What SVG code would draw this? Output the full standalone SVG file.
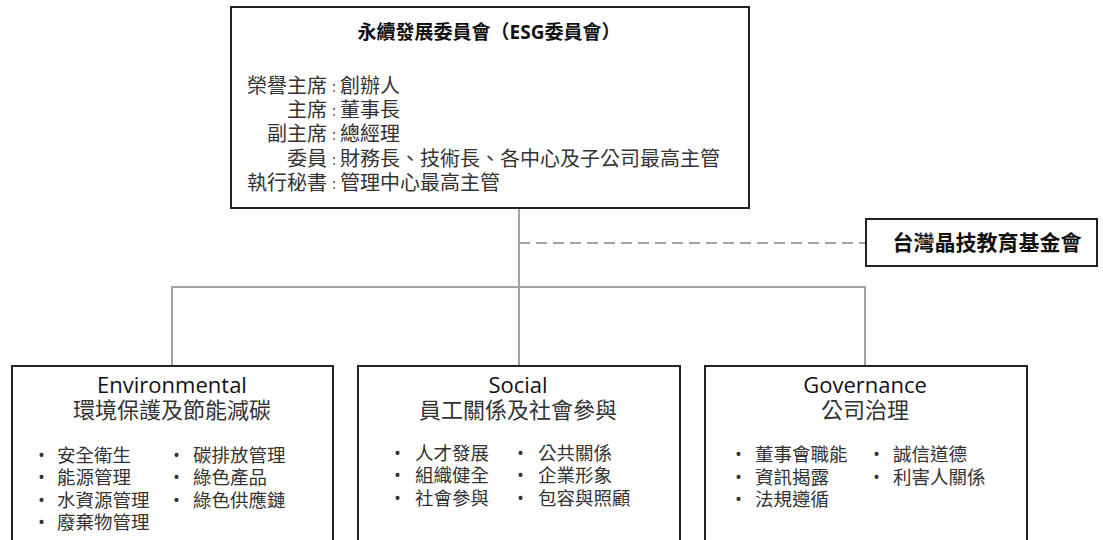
<svg xmlns="http://www.w3.org/2000/svg" width="1103" height="540" viewBox="0 0 1103 540">
<style>
.box{fill:#fff;stroke:#222;stroke-width:2}
.conn{fill:none;stroke:#a3a3a3;stroke-width:2}
.dash{stroke-dasharray:11 6}
text{font-family:"Open Sans","Noto Sans CJK TC","Noto Sans",sans-serif;fill:#333}
.ttl{font-size:19px;font-weight:bold;fill:#111;text-anchor:middle}
.row{font-size:20px}
.cl{font-size:12px}
.hd{font-size:22px;fill:#111;text-anchor:middle}
.sub{font-size:22px;text-anchor:middle}
.it{font-size:18.5px}
</style>
<rect width="1103" height="540" fill="#fff"/>
<g id="connectors">
<path class="conn" d="M519 208V366M172 366V287H865V366"/>
<path class="conn dash" d="M519 243H866"/>
</g>
<g id="esg-committee">
<rect class="box" x="231" y="7" width="518" height="201"/>
<text class="ttl" x="489" y="39">永續發展委員會（ESG委員會）</text>
<text class="row" y="93"><tspan x="327" text-anchor="end">榮譽主席</tspan><tspan x="328" class="cl">：</tspan><tspan>創辦人</tspan></text>
<text class="row" y="117"><tspan x="327" text-anchor="end">主席</tspan><tspan x="328" class="cl">：</tspan><tspan>董事長</tspan></text>
<text class="row" y="141"><tspan x="327" text-anchor="end">副主席</tspan><tspan x="328" class="cl">：</tspan><tspan>總經理</tspan></text>
<text class="row" y="166"><tspan x="327" text-anchor="end">委員</tspan><tspan x="328" class="cl">：</tspan><tspan>財務長、技術長、各中心及子公司最高主管</tspan></text>
<text class="row" y="190"><tspan x="327" text-anchor="end">執行秘書</tspan><tspan x="328" class="cl">：</tspan><tspan>管理中心最高主管</tspan></text>
</g>
<g id="foundation">
<rect class="box" x="866" y="219" width="231" height="47"/>
<text class="ttl" x="987" y="250" style="font-size:21px">台灣晶技教育基金會</text>
</g>
<g id="environmental">
<rect class="box" x="12" y="366" width="321" height="200"/>
<text class="hd" x="172" y="393">Environmental</text>
<text class="sub" x="172" y="418">環境保護及節能減碳</text>
<text class="it" y="462"><tspan x="38">•</tspan><tspan x="57">安全衛生</tspan></text>
<text class="it" y="484"><tspan x="38">•</tspan><tspan x="57">能源管理</tspan></text>
<text class="it" y="507"><tspan x="38">•</tspan><tspan x="57">水資源管理</tspan></text>
<text class="it" y="529"><tspan x="38">•</tspan><tspan x="57">廢棄物管理</tspan></text>
<text class="it" y="462"><tspan x="173">•</tspan><tspan x="193">碳排放管理</tspan></text>
<text class="it" y="484"><tspan x="173">•</tspan><tspan x="193">綠色產品</tspan></text>
<text class="it" y="507"><tspan x="173">•</tspan><tspan x="193">綠色供應鏈</tspan></text>
</g>
<g id="social">
<rect class="box" x="358" y="366" width="322" height="200"/>
<text class="hd" x="518" y="393">Social</text>
<text class="sub" x="518" y="418">員工關係及社會參與</text>
<text class="it" y="460"><tspan x="394">•</tspan><tspan x="415">人才發展</tspan></text>
<text class="it" y="482"><tspan x="394">•</tspan><tspan x="415">組織健全</tspan></text>
<text class="it" y="505"><tspan x="394">•</tspan><tspan x="415">社會參與</tspan></text>
<text class="it" y="460"><tspan x="517">•</tspan><tspan x="538">公共關係</tspan></text>
<text class="it" y="482"><tspan x="517">•</tspan><tspan x="538">企業形象</tspan></text>
<text class="it" y="505"><tspan x="517">•</tspan><tspan x="538">包容與照顧</tspan></text>
</g>
<g id="governance">
<rect class="box" x="705" y="366" width="322" height="200"/>
<text class="hd" x="865" y="393">Governance</text>
<text class="sub" x="865" y="418">公司治理</text>
<text class="it" y="461"><tspan x="735">•</tspan><tspan x="755">董事會職能</tspan></text>
<text class="it" y="484"><tspan x="735">•</tspan><tspan x="755">資訊揭露</tspan></text>
<text class="it" y="506"><tspan x="735">•</tspan><tspan x="755">法規遵循</tspan></text>
<text class="it" y="461"><tspan x="873">•</tspan><tspan x="893">誠信道德</tspan></text>
<text class="it" y="484"><tspan x="873">•</tspan><tspan x="893">利害人關係</tspan></text>
</g>
</svg>
